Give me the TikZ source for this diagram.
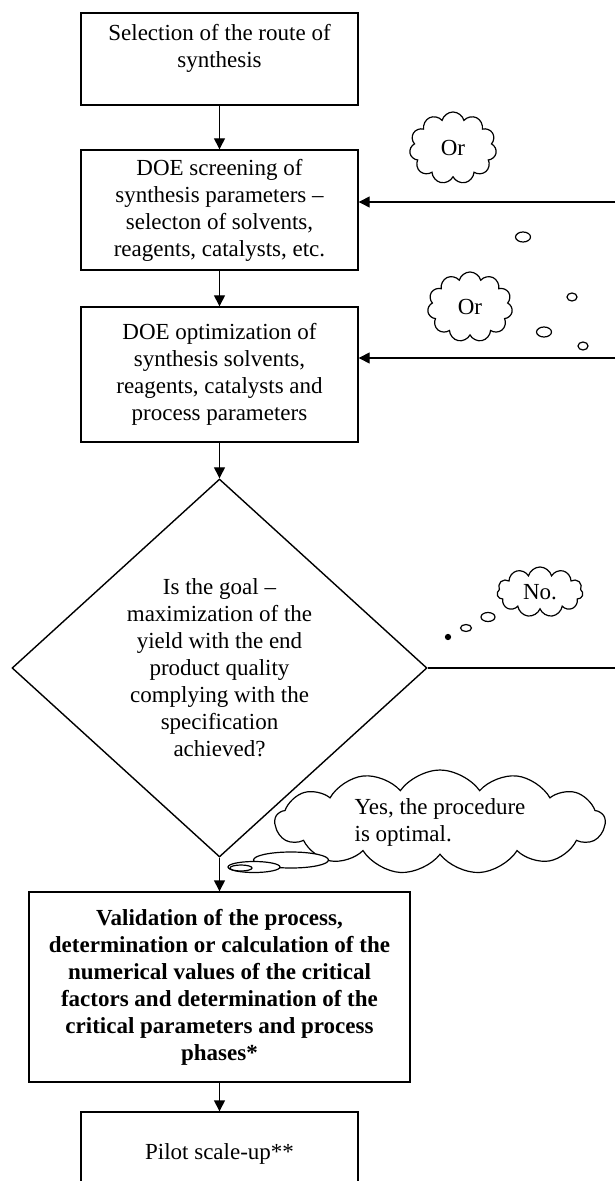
\documentclass[tikz,border=0pt]{standalone}
\usepackage{fontspec}
\setmainfont{Liberation Serif}
\usetikzlibrary{arrows.meta,shapes.geometric,shapes.symbols}

\begin{document}
\begin{tikzpicture}[x=0.5pt, y=-0.5pt,
every edge/.style = {draw=black,line width=0.7pt,-{Triangle[length=5.5pt,width=5.5pt]}},
 stepbox/.style args = {#1/#2}{%
      rectangle, draw, line width=0.7pt, fill=white,
      minimum width=#1, minimum height=#2, align=center,
      font=\fontsize{11.5}{13.5}\selectfont},
 decision/.style = {%
      diamond, draw, line width=0.7pt, inner sep=0pt,
      minimum width=207.5pt, minimum height=189pt, align=center,
      font=\fontsize{11.5}{13.5}\selectfont},
 thought/.style args = {#1/#2}{%
      cloud, cloud puffs=11, cloud ignores aspect, draw, line width=0.6pt,
      fill=white, inner sep=1pt, minimum width=#1, minimum height=#2,
      align=center, font=\fontsize{11.5}{13.5}\selectfont},
 bubble/.style args = {#1/#2}{%
      ellipse, draw, line width=0.6pt, fill=white, inner sep=0pt,
      minimum width=#1, minimum height=#2}
                    ]
\useasboundingbox (0, 0) rectangle (615, 1181);
\clip (0, 0) rectangle (615, 1181);
\node(yes) [thought=165pt/52pt, cloud puffs=13, cloud puff arc=110,
            inner sep=0pt, align=left] at (440, 822) {Yes, the procedure\\is optimal.};
\node(route) [stepbox=138.5pt/46pt] at (219.5, 59) {Selection of the route of\\synthesis\\\mbox{}};
\node(screen) [stepbox=138.5pt/60pt] at (219.5, 210) {DOE screening of\\synthesis parameters --\\selecton of solvents,\\reagents, catalysts, etc.};
\node(optim) [stepbox=138.5pt/67.5pt] at (219.5, 374.5) {DOE optimization of\\synthesis solvents,\\reagents, catalysts and\\process parameters};
\node(goal) [decision] at (219.5, 668) {Is the goal --\\maximization of the\\yield with the end\\product quality\\complying with the\\specification\\achieved?};
\node(valid) [stepbox=190.5pt/95pt, font=\fontsize{11.5}{13.5}\selectfont\bfseries] at (219.5, 987) {Validation of the process,\\determination or calculation of the\\numerical values of the critical\\factors and determination of the\\critical parameters and process\\phases*};
\node(pilot) [stepbox=138.5pt/41.5pt] at (219.5, 1153.5) {Pilot scale-up**};
%
\node(or1) [thought=43.5pt/36pt] at (453, 148) {Or};
\node(or2) [thought=42.5pt/35pt] at (470, 307) {Or};
\node(no) [thought=43pt/25pt] at (540, 592) {No.};
\node(b1) [bubble=7.5pt/5pt] at (523, 237) {};
\node(b2) [bubble=5pt/4pt] at (572, 297) {};
\node(b3) [bubble=7.5pt/5pt] at (544, 332) {};
\node(b4) [bubble=5pt/4pt] at (583, 346) {};
\node(n1) [bubble=7pt/4.5pt] at (488, 617) {};
\node(n2) [bubble=5.5pt/3.5pt] at (466, 628) {};
\node(n3) [bubble=2.5pt/2.5pt, fill=black] at (448, 637) {};
\node(y1) [bubble=37.5pt/8pt] at (291, 860) {};
\node(y2) [bubble=26pt/5.5pt] at (254, 867) {};
\node(y3) [bubble=11pt/3pt] at (241, 868) {};
%
\coordinate (back1) at (615, 202);
\coordinate (back2) at (615, 358);
\coordinate (nope) at (615, 668);
%
\path   (route)  edge (screen);
\path   (screen) edge (optim);
\path   (optim)  edge (goal);
\path   (goal)   edge (valid);
\path   (valid)  edge (pilot);
\path   (back1)  edge (back1 -| screen.east);
\path   (back2)  edge (back2 -| optim.east);
\draw[line width=0.7pt] (goal.east) -- (nope);
\end{tikzpicture}
\end{document}
